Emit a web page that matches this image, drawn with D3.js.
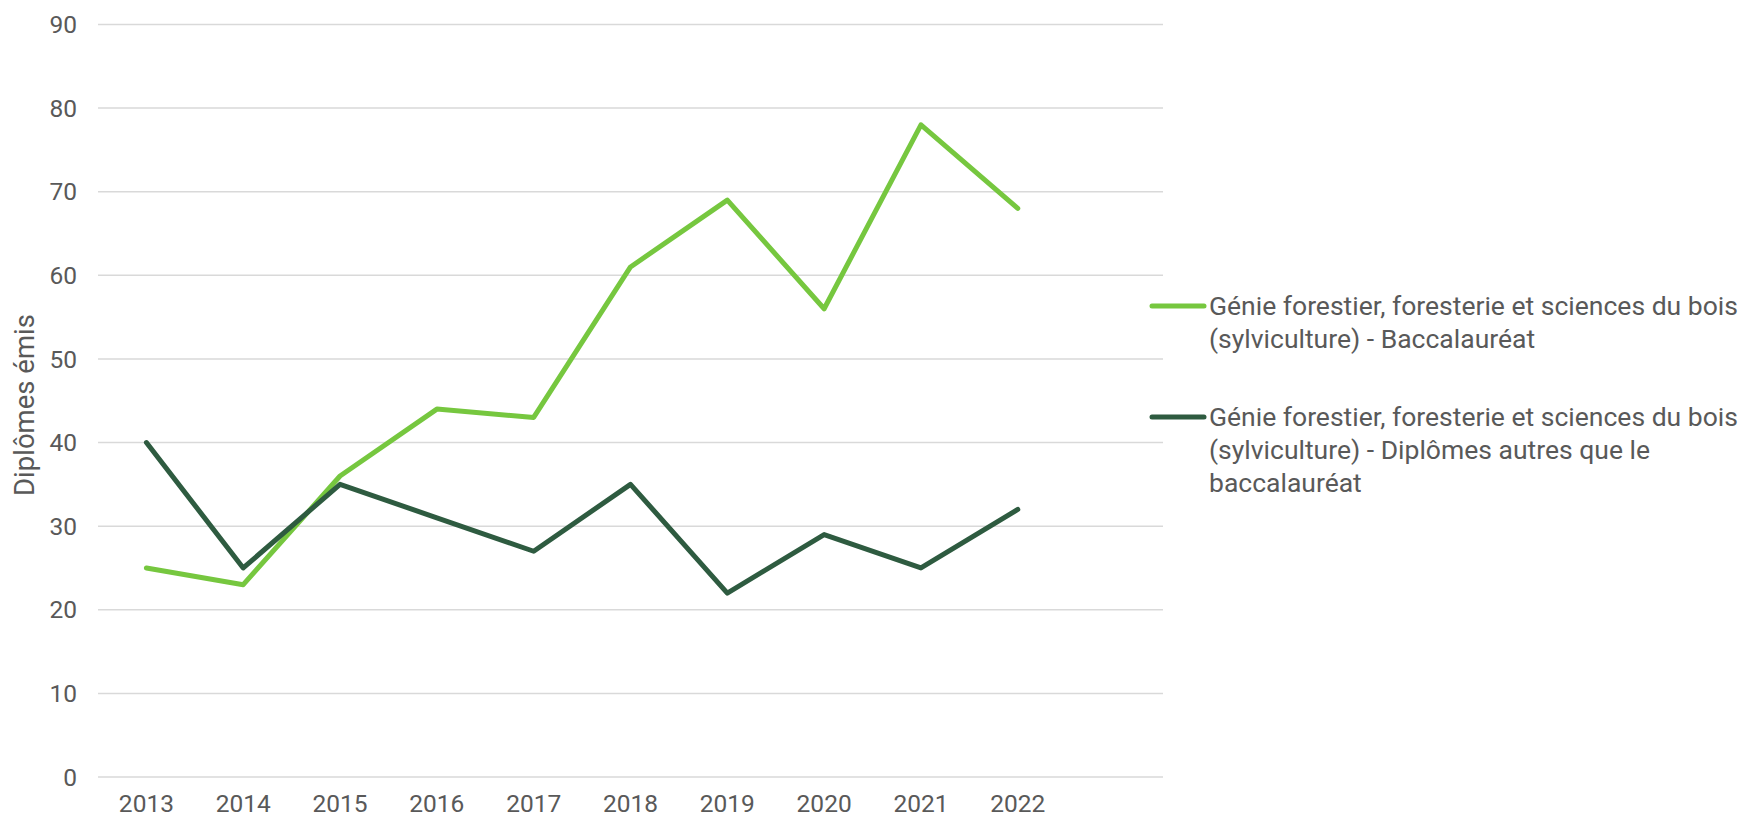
<!DOCTYPE html>
<html><head><meta charset="utf-8">
<script src="https://cdn.jsdelivr.net/npm/d3@7"></script>
<style>
html,body{margin:0;padding:0;background:#fff;}
svg{display:block;font-family:Roboto,"Noto Sans",sans-serif;}
</style></head>
<body>
<svg id="chart" width="1748" height="817"></svg>
<script>
const years = ["2013","2014","2015","2016","2017","2018","2019","2020","2021","2022"];
const bacValues = [25,23,36,44,43,61,69,56,78,68];
const autresValues = [40,25,35,31,27,35,22,29,25,32];
const yTicks = [0,10,20,30,40,50,60,70,80,90];
const seriesNames = [
  ["Génie forestier, foresterie et sciences du bois", "(sylviculture) - Baccalauréat"],
  ["Génie forestier, foresterie et sciences du bois", "(sylviculture) - Diplômes autres que le", "baccalauréat"]
];
const colors = ["#76c73f", "#2e5b40"];
const yTitle = "Diplômes émis";

(function(){
const svg = d3.select("#chart");
const pL = 98, pR = 1163, pT = 24.5, pB = 777;
const textColor = "#595959";

const x = d3.scaleBand().domain(years.concat(["_"])).range([pL, pR]);
const y = d3.scaleLinear().domain([0, 90]).range([pB, pT]);

svg.append("g").selectAll("line").data(yTicks).join("line")
  .attr("x1", pL).attr("x2", pR)
  .attr("y1", d => y(d)).attr("y2", d => y(d))
  .attr("stroke", "#d9d9d9").attr("stroke-width", 1.5);

svg.append("g").selectAll("text").data(yTicks).join("text")
  .attr("x", 77).attr("y", d => y(d)).attr("dy", "0.35em")
  .attr("text-anchor", "end").attr("font-size", 24.5).attr("fill", textColor)
  .text(d => d);

svg.append("g").selectAll("text").data(years).join("text")
  .attr("x", d => x(d) + x.bandwidth()/2).attr("y", 812)
  .attr("text-anchor", "middle").attr("font-size", 24.5).attr("fill", textColor)
  .text(d => d);

svg.append("text")
  .attr("transform", "translate(34,405) rotate(-90)")
  .attr("text-anchor", "middle").attr("font-size", 27.5).attr("fill", textColor)
  .text(yTitle);

const line = d3.line().x((d,i) => x(years[i]) + x.bandwidth()/2).y(d => y(d));
[bacValues, autresValues].forEach((vals, k) => {
  svg.append("path").datum(vals)
    .attr("d", line).attr("fill", "none")
    .attr("stroke", colors[k]).attr("stroke-width", 5)
    .attr("stroke-linejoin", "round").attr("stroke-linecap", "round");
});

const legendY = [306, 417];
const lineH = 33;
seriesNames.forEach((lines, k) => {
  const g = svg.append("g");
  g.append("line").attr("x1", 1152).attr("x2", 1204)
    .attr("y1", legendY[k]).attr("y2", legendY[k])
    .attr("stroke", colors[k]).attr("stroke-width", 5).attr("stroke-linecap", "round");
  lines.forEach((t, j) => {
    g.append("text").attr("x", 1209).attr("y", legendY[k] + j*lineH).attr("dy", "0.35em")
      .attr("font-size", 26.5).attr("fill", textColor).text(t);
  });
});
})();
</script>
</body></html>
